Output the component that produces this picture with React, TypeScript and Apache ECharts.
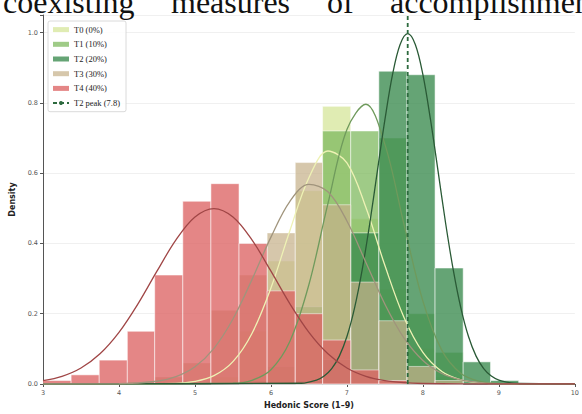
import React, { useEffect, useRef } from "react";
import * as echarts from "echarts";

// ---- data ----
const BIN_EDGES = [3.0, 3.37, 3.74, 4.11, 4.47, 4.84, 5.21, 5.58, 5.95, 6.32, 6.68, 7.05, 7.42, 7.79, 8.16, 8.53, 8.89, 9.26, 9.63, 10.0];

const GROUP_NAMES = ["T0 (0%)", "T1 (10%)", "T2 (20%)", "T3 (30%)", "T4 (40%)"];

const HIST_T0 = [0, 0, 0, 0, 0, 0, 0.02, 0.15, 0.35, 0.55, 0.79, 0.47, 0.27, 0.1, 0.02, 0, 0, 0, 0];
const HIST_T1 = [0, 0, 0, 0, 0, 0, 0, 0.01, 0.05, 0.22, 0.72, 0.72, 0.7, 0.2, 0.09, 0, 0, 0, 0];
const HIST_T2 = [0, 0, 0, 0, 0, 0, 0, 0, 0, 0.01, 0.07, 0.43, 0.89, 0.88, 0.33, 0.063, 0.01, 0, 0];
const HIST_T3 = [0, 0, 0, 0.005, 0.02, 0.06, 0.21, 0.31, 0.43, 0.63, 0.51, 0.29, 0.18, 0.05, 0.01, 0, 0, 0, 0];
const HIST_T4 = [0.01, 0.026, 0.068, 0.15, 0.31, 0.52, 0.57, 0.4, 0.265, 0.2, 0.125, 0.04, 0.01, 0, 0, 0, 0, 0, 0];

const CURVE_T0_X = [3.0, 4.75, 5.0, 5.25, 5.5, 5.75, 6.0, 6.25, 6.5, 6.75, 7.0, 7.25, 7.5, 7.75, 8.0, 8.25, 8.5, 8.75, 9.0, 10.0];
const CURVE_T0_Y = [0, 0.0019, 0.0074, 0.0237, 0.0636, 0.1438, 0.2734, 0.437, 0.587, 0.663, 0.629, 0.502, 0.337, 0.19, 0.09, 0.0358, 0.012, 0.0034, 0.0008, 0];

const CURVE_T1_X = [3.0, 5.5, 5.75, 6.0, 6.25, 6.5, 6.75, 7.0, 7.25, 7.5, 7.75, 8.0, 8.25, 8.5, 8.75, 9.0, 10.0];
const CURVE_T1_Y = [0, 0.0021, 0.0106, 0.0406, 0.1215, 0.283, 0.513, 0.724, 0.796, 0.682, 0.455, 0.236, 0.0956, 0.0301, 0.0074, 0.0014, 0];

const CURVE_T2_X = [3.0, 6.4, 6.6, 6.7, 6.8, 6.9, 7.0, 7.1, 7.2, 7.3, 7.4, 7.5, 7.6, 7.7, 7.8, 7.9, 8.0, 8.1, 8.2, 8.3, 8.4, 8.5, 8.6, 8.7, 8.8, 8.9, 9.0, 9.1, 9.2, 10.0];
const CURVE_T2_Y = [0, 0.0022, 0.0111, 0.0227, 0.0438, 0.0793, 0.135, 0.216, 0.324, 0.456, 0.605, 0.752, 0.88, 0.966, 0.997, 0.966, 0.88, 0.752, 0.605, 0.456, 0.324, 0.216, 0.135, 0.0793, 0.0438, 0.0227, 0.0111, 0.0051, 0.0022, 0];

const CURVE_T3_X = [3.0, 4.0, 4.5, 4.75, 5.0, 5.25, 5.5, 5.75, 6.0, 6.25, 6.5, 6.75, 7.0, 7.25, 7.5, 7.75, 8.0, 8.25, 8.5, 8.75, 9.0, 10.0];
const CURVE_T3_Y = [0, 0.0007, 0.0078, 0.0209, 0.0491, 0.1016, 0.185, 0.297, 0.418, 0.52, 0.568, 0.547, 0.464, 0.346, 0.227, 0.131, 0.0667, 0.0298, 0.0118, 0.0041, 0.0012, 0];

const CURVE_T4_X = [3.0, 3.25, 3.5, 3.75, 4.0, 4.25, 4.5, 4.75, 5.0, 5.25, 5.5, 5.75, 6.0, 6.25, 6.5, 6.75, 7.0, 7.25, 7.5, 7.75, 8.0, 8.5, 10.0];
const CURVE_T4_Y = [0.0096, 0.0219, 0.0456, 0.086, 0.147, 0.228, 0.321, 0.41, 0.475, 0.499, 0.475, 0.41, 0.321, 0.228, 0.147, 0.086, 0.0456, 0.0219, 0.0096, 0.0038, 0.0014, 0.0001, 0];

const PEAK_X = 7.8;
const PEAK_NAME = "T2 peak (7.8)";

const X_MIN = 3;
const X_MAX = 10;
const Y_MAX = 1.05;

const HEADER_WORDS = ["coexisting", "measures", "of", "accomplishment"];

// ---- styles ----
const BAR_COLORS = ["#d6e69a", "#7fb95f", "#3a8a4e", "#c6b28a", "#dc6464"];
const BAR_OPACITY = [0.75, 0.75, 0.78, 0.72, 0.78];
const CURVE_COLORS = ["#eef2b4", "#6f9a5c", "#2a5a36", "#a0947c", "#a04646"];
const HEADER_X = [3, 171, 327, 390];

export default function App() {
  const ref = useRef<HTMLDivElement>(null);

  useEffect(() => {
    if (!ref.current) return;
    const chart = echarts.init(ref.current, null, { renderer: "svg" });

    const hists = [HIST_T0, HIST_T1, HIST_T2, HIST_T3, HIST_T4];
    const curvesX = [CURVE_T0_X, CURVE_T1_X, CURVE_T2_X, CURVE_T3_X, CURVE_T4_X];
    const curvesY = [CURVE_T0_Y, CURVE_T1_Y, CURVE_T2_Y, CURVE_T3_Y, CURVE_T4_Y];

    const histSeries = GROUP_NAMES.map((name, gi) => {
      const data: number[][] = [];
      hists[gi].forEach((h, i) => {
        if (h > 0) data.push([BIN_EDGES[i], BIN_EDGES[i + 1], h]);
      });
      const color = BAR_COLORS[gi];
      const op = BAR_OPACITY[gi];
      return {
        type: "custom",
        name,
        z: 2 + gi,
        itemStyle: { color, opacity: op },
        encode: { x: [0, 1], y: 2 },
        data,
        renderItem: (params: any, api: any) => {
          const p0 = api.coord([api.value(0), api.value(2)]);
          const p1 = api.coord([api.value(1), 0]);
          return {
            type: "rect",
            shape: { x: p0[0], y: p0[1], width: p1[0] - p0[0], height: p1[1] - p0[1] },
            style: { fill: color, opacity: op, stroke: "rgba(255,255,255,0.85)", lineWidth: 0.8 },
          };
        },
      };
    });

    const curveSeries = GROUP_NAMES.map((name, gi) => ({
      type: "line",
      name: name + " fit",
      z: 10,
      smooth: 0.35,
      symbol: "none",
      silent: true,
      lineStyle: { color: CURVE_COLORS[gi], width: 1.3 },
      data: curvesX[gi].map((x, i) => [x, curvesY[gi][i]]),
    }));

    const peakSeries = {
      type: "line",
      name: PEAK_NAME,
      z: 12,
      symbol: "none",
      itemStyle: { color: "#2d6a3e" },
      lineStyle: { color: "#2d6a3e", width: 1.8, type: [4, 3] },
      data: [
        [PEAK_X, 0],
        [PEAK_X, Y_MAX],
      ],
    };

    const option: any = {
      animation: false,
      backgroundColor: "#ffffff",
      grid: { left: 43, right: 5, top: 15, bottom: 30, containLabel: false },
      legend: {
        orient: "vertical",
        left: 48,
        top: 21,
        padding: [4, 6, 4, 4],
        itemWidth: 16,
        itemHeight: 5,
        itemGap: 5.5,
        backgroundColor: "rgba(255,255,255,0.85)",
        borderColor: "#d0d0d0",
        borderWidth: 0.8,
        borderRadius: 2,
        textStyle: { fontFamily: "Liberation Serif", fontSize: 8.5, color: "#222", lineHeight: 9.2 },
        data: [
          ...GROUP_NAMES.map((n, gi) => ({
            name: n,
            icon: "rect",
            itemStyle: { color: BAR_COLORS[gi], opacity: BAR_OPACITY[gi] },
          })),
          { name: PEAK_NAME },
        ],
      },
      xAxis: {
        type: "value",
        min: X_MIN,
        max: X_MAX,
        interval: 1,
        name: "Hedonic Score (1\u20139)",
        nameLocation: "middle",
        nameGap: 17,
        nameTextStyle: { fontFamily: "DejaVu Sans", fontWeight: "bold", fontSize: 8, color: "#222" },
        axisLine: { lineStyle: { color: "#555", width: 1 } },
        axisTick: { show: true, length: 3, lineStyle: { color: "#555" } },
        axisLabel: { fontFamily: "DejaVu Sans", fontSize: 6.5, color: "#555", margin: 5 },
        splitLine: { show: false },
      },
      yAxis: {
        type: "value",
        min: 0,
        max: Y_MAX,
        interval: 0.2,
        name: "Density",
        nameLocation: "middle",
        nameGap: 25,
        nameTextStyle: { fontFamily: "DejaVu Sans", fontWeight: "bold", fontSize: 8, color: "#222" },
        axisLine: { show: true, lineStyle: { color: "#555", width: 1 } },
        axisTick: { show: true, length: 3, lineStyle: { color: "#555" } },
        axisLabel: {
          fontFamily: "DejaVu Sans",
          fontSize: 6.5,
          color: "#555",
          margin: 5,
          formatter: (v: number) => (Math.abs(v * 5 - Math.round(v * 5)) < 1e-6 ? v.toFixed(1) : ""),
        },
        splitLine: { show: true, lineStyle: { color: "#ececec", width: 0.8 } },
      },
      graphic: HEADER_WORDS.map((w, i) => ({
        type: "text",
        x: HEADER_X[i],
        y: -14,
        z: 100,
        style: {
          text: w,
          fontFamily: "Liberation Serif",
          fontSize: 32,
          fill: "#111",
        },
      })),
      series: [...histSeries, ...curveSeries, peakSeries],
    };

    chart.setOption(option);
    return () => chart.dispose();
  }, []);

  return (
    <div
      ref={ref}
      style={{ position: "fixed", left: 0, top: 0, width: 582, height: 414, background: "#fff" }}
    />
  );
}
